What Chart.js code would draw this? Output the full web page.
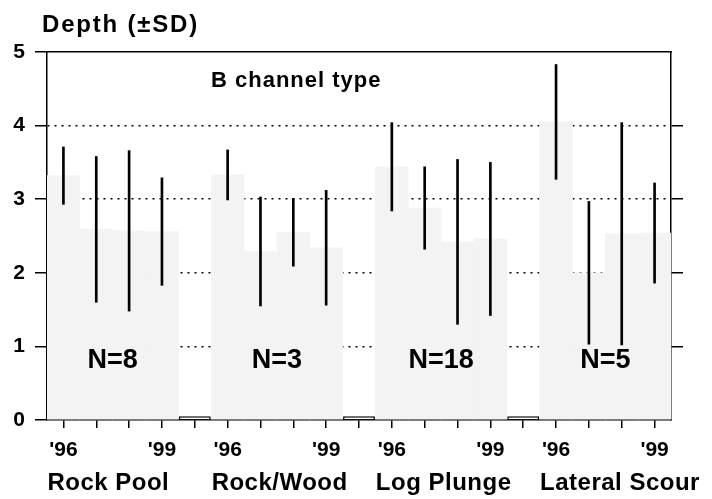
<!DOCTYPE html>
<html>
<head>
<meta charset="utf-8">
<script src="https://cdn.jsdelivr.net/npm/chart.js@4"></script>
<style>
  html, body { margin: 0; padding: 0; background: #fff; }
  #wrap { width: 712px; height: 499px; }
</style>
</head>
<body>
<div id="wrap"><canvas id="depth" width="712" height="499"></canvas></div>
<script>
const groups = ['Rock Pool', 'Rock/Wood', 'Log Plunge', 'Lateral Scour'];
const years = ["'96", "'97", "'98", "'99"];
const sampleSizes = [8, 3, 18, 5];

// mean depth and SD for each year, one pair of arrays per channel unit
const rockPoolMean = [3.32, 2.59, 2.57, 2.56];
const rockPoolSd = [0.39, 0.99, 1.09, 0.73];
const rockWoodMean = [3.33, 2.29, 2.55, 2.34];
const rockWoodSd = [0.34, 0.74, 0.46, 0.78];
const logPlungeMean = [3.44, 2.88, 2.42, 2.46];
const logPlungeSd = [0.60, 0.56, 1.12, 1.04];
const lateralScourMean = [4.05, 2.00, 2.53, 2.54];
const lateralScourSd = [0.78, 0.97, 1.51, 0.68];

// small empty bar sitting between the groups
const spacerDepth = 0.05;
const yTicks = [0, 1, 2, 3, 4, 5];

const groupMeans = [rockPoolMean, rockWoodMean, logPlungeMean, lateralScourMean];
const groupSds = [rockPoolSd, rockWoodSd, logPlungeSd, lateralScourSd];

// flatten into one category axis: 4 years per group + a spacer slot between groups
const labels = [], tickText = [], means = [], errBars = [], spacers = [], groupStart = [];
groups.forEach((g, gi) => {
    groupStart.push(labels.length);
    years.forEach((y, i) => {
        const m = groupMeans[gi][i], s = groupSds[gi][i];
        labels.push(g + ' ' + y);
        tickText.push(i === 0 || i === years.length - 1 ? y : '');
        means.push(m);
        errBars.push([m - s, m + s]);
        spacers.push(null);
    });
    if (gi < groups.length - 1) {
        labels.push('');
        tickText.push('');
        means.push(null);
        errBars.push(null);
        spacers.push(spacerDepth);
    }
});

const boldFont = size => ({ family: 'Liberation Sans', size: size, weight: 'bold' });
const midGrid = v => (v > 0 && v < 5 ? '#000' : 'rgba(0,0,0,0)');

// titles, group names and N= labels
const textPlugin = {
    id: 'depthText',
    afterDraw(chart) {
        const ctx = chart.ctx;
        const x = chart.scales.x, y = chart.scales.y;
        ctx.save();
        ctx.fillStyle = '#000';
        ctx.textBaseline = 'alphabetic';

        ctx.textAlign = 'left';
        ctx.letterSpacing = '1.8px';
        ctx.font = 'bold 24px "Liberation Sans"';
        ctx.fillText('Depth (\u00b1SD)', 42, 32);

        ctx.letterSpacing = '1px';
        ctx.font = 'bold 22px "Liberation Sans"';
        ctx.fillText('B channel type', 211, 87);

        ctx.letterSpacing = '0.5px';
        ctx.font = 'bold 24px "Liberation Sans"';
        groups.forEach((g, gi) => {
            ctx.fillText(g, x.getPixelForValue(groupStart[gi]) - 16, 490);
        });

        ctx.letterSpacing = '0px';
        ctx.textAlign = 'center';
        ctx.font = 'bold 27px "Liberation Sans"';
        sampleSizes.forEach((n, gi) => {
            const cx = (x.getPixelForValue(groupStart[gi] + 1) + x.getPixelForValue(groupStart[gi] + 2)) / 2;
            ctx.fillText('N=' + n, cx, y.getPixelForValue(0.71));
        });
        ctx.restore();
    }
};

new Chart(document.getElementById('depth'), {
    type: 'bar',
    data: {
        labels: labels,
        datasets: [
            {
                label: 'SD',
                data: errBars,
                backgroundColor: '#000',
                barThickness: 2,
                grouped: false
            },
            {
                label: 'spacer',
                data: spacers,
                backgroundColor: '#fff',
                borderColor: '#000',
                borderWidth: 1.5,
                barPercentage: 0.97,
                categoryPercentage: 1,
                grouped: false
            },
            {
                label: 'Depth',
                data: means,
                backgroundColor: '#f3f3f3',
                barPercentage: 1,
                categoryPercentage: 1,
                grouped: false
            }
        ]
    },
    options: {
        responsive: false,
        animation: false,
        layout: { padding: { top: 52, left: 0, right: 29, bottom: 0 } },
        plugins: { legend: { display: false }, tooltip: { enabled: false } },
        scales: {
            x: {
                offset: true,
                afterFit: s => { s.height = 79; },
                grid: { drawOnChartArea: false, offset: false, tickLength: 8, color: '#000', lineWidth: 1.5 },
                border: { color: '#000', width: 1.5 },
                ticks: {
                    autoSkip: false, maxRotation: 0, padding: 10,
                    color: '#000', font: boldFont(21),
                    callback: (v, i) => tickText[i]
                }
            },
            x2: {
                type: 'category',
                position: 'top',
                afterFit: s => { s.height = 0; },
                grid: { display: false },
                ticks: { display: false },
                border: { color: '#000', width: 1.5 }
            },
            y: {
                min: 0, max: 5,
                afterFit: s => { s.width = 47; },
                afterBuildTicks: s => { s.ticks = yTicks.map(v => ({ value: v })); },
                grid: {
                    color: c => midGrid(c.tick.value),
                    lineWidth: 1.5,
                    tickColor: '#000',
                    tickLength: 12,
                    tickWidth: 1.5
                },
                border: { color: '#000', width: 1.5, dash: [2, 5] },
                ticks: { padding: 10, color: '#000', font: boldFont(21) }
            },
            y2: {
                type: 'linear',
                position: 'right',
                min: 0, max: 5,
                afterFit: s => { s.width = 12; },
                afterBuildTicks: s => { s.ticks = yTicks.map(v => ({ value: v })); },
                grid: {
                    drawOnChartArea: false,
                    color: c => midGrid(c.tick.value),
                    tickLength: 12,
                    lineWidth: 1.5
                },
                border: { color: '#000', width: 1.5 },
                ticks: { display: false }
            }
        }
    },
    plugins: [textPlugin]
});
</script>
</body>
</html>
